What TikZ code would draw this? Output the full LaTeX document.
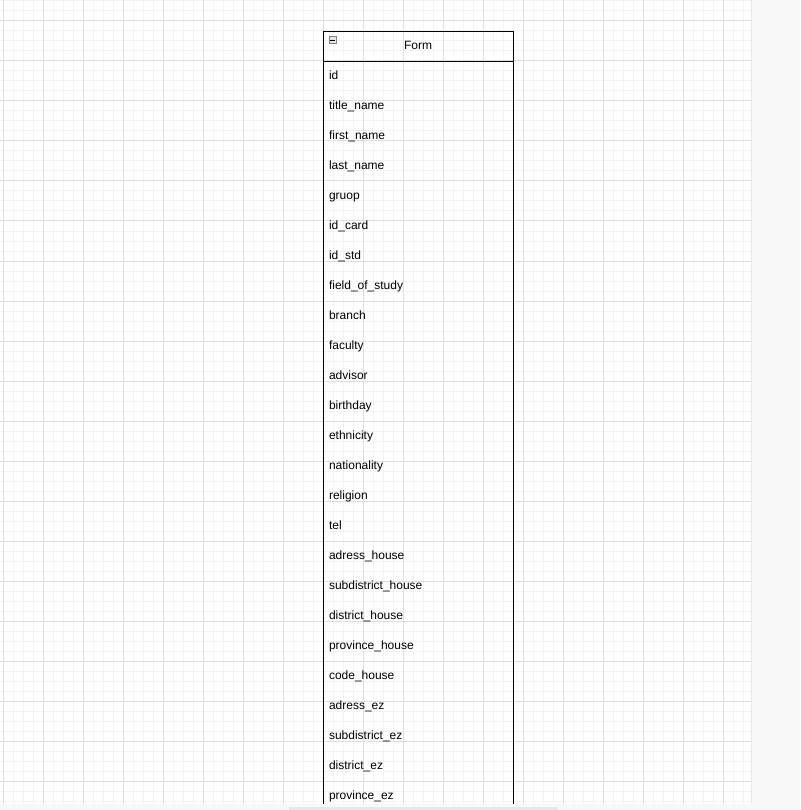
\documentclass[tikz,border=0pt]{standalone}
\usepackage{fontspec}
\setmainfont{Liberation Sans}
\usepackage{xcolor}
\definecolor{minorgrid}{RGB}{243,243,243}
\definecolor{majorgrid}{RGB}{222,222,222}
\definecolor{panel}{RGB}{248,248,248}
\definecolor{panelline}{RGB}{232,232,232}
\definecolor{scrollbar}{RGB}{232,232,232}
\usetikzlibrary{positioning}
\tikzstyle{Header} = [
draw, line width=1pt, outer sep=0pt,
minimum width=190pt, minimum height=30pt,
inner sep=0pt, text height=8.5pt, text depth=2pt,
font=\fontsize{12}{14}\selectfont]
\tikzstyle{Field} = [
text width=178pt, align=left, outer sep=0pt,
inner xsep=6pt, inner ysep=0pt,
minimum height=30pt, text height=8.5pt, text depth=2.5pt,
font=\fontsize{12}{14}\selectfont]

\begin{document}
\begin{tikzpicture}[x=1pt, y=-1pt]
    \useasboundingbox (0,0) rectangle (800,810);
    \fill[white] (0,0) rectangle (800,810);

    % grid
    \begin{scope}
        \clip (0,0) rectangle (751,804);
        \draw[minorgrid, line width=1pt, shift={(3,1)}, xstep=10pt, ystep=10pt] (-10,-10) grid (760,810);
        \draw[majorgrid, line width=1pt, shift={(3,21)}, xstep=40pt, ystep=40pt] (-40,-40) grid (760,800);
    \end{scope}

    \node [Header, anchor=north west] (form) at (323,31.5) {Form};
    \node [Field, below =0pt of form] (id) {id};
    \node [Field, below =0pt of id] (titlename) {title\_name};
    \node [Field, below =0pt of titlename] (firstname) {first\_name};
    \node [Field, below =0pt of firstname] (lastname) {last\_name};
    \node [Field, below =0pt of lastname] (gruop) {gruop};
    \node [Field, below =0pt of gruop] (idcard) {id\_card};
    \node [Field, below =0pt of idcard] (idstd) {id\_std};
    \node [Field, below =0pt of idstd] (field) {field\_of\_study};
    \node [Field, below =0pt of field] (branch) {branch};
    \node [Field, below =0pt of branch] (faculty) {faculty};
    \node [Field, below =0pt of faculty] (advisor) {advisor};
    \node [Field, below =0pt of advisor] (birthday) {birthday};
    \node [Field, below =0pt of birthday] (ethnicity) {ethnicity};
    \node [Field, below =0pt of ethnicity] (nationality) {nationality};
    \node [Field, below =0pt of nationality] (religion) {religion};
    \node [Field, below =0pt of religion] (tel) {tel};
    \node [Field, below =0pt of tel] (adresshouse) {adress\_house};
    \node [Field, below =0pt of adresshouse] (subdistricthouse) {subdistrict\_house};
    \node [Field, below =0pt of subdistricthouse] (districthouse) {district\_house};
    \node [Field, below =0pt of districthouse] (provincehouse) {province\_house};
    \node [Field, below =0pt of provincehouse] (codehouse) {code\_house};
    \node [Field, below =0pt of codehouse] (adressez) {adress\_ez};
    \node [Field, below =0pt of adressez] (subdistrictez) {subdistrict\_ez};
    \node [Field, below =0pt of subdistrictez] (districtez) {district\_ez};
    \node [Field, below =0pt of districtez] (provinceez) {province\_ez};

    % table sides, cut off by the panel below
    \draw[line width=1pt] (form.south west)--(form.south west |- provinceez.south);
    \draw[line width=1pt] (form.south east)--(form.south east |- provinceez.south);

    % collapse icon
    \node [draw=gray, fill=black!10, line width=0.8pt, minimum size=7pt, inner sep=0pt,
           anchor=north west] (collapse) at (328.5,36.5) {};
    \draw[line width=1.2pt] ([xshift=1.5pt]collapse.west)--([xshift=-1.5pt]collapse.east);

    % editor panels
    \fill[panel] (751,0) rectangle (800,810);
    \fill[panel] (0,804) rectangle (800,810);
    \draw[panelline, line width=1.5pt] (751.5,0)--(751.5,804);
    \fill[scrollbar] (289,807) rectangle (558,810);
\end{tikzpicture}
\end{document}
